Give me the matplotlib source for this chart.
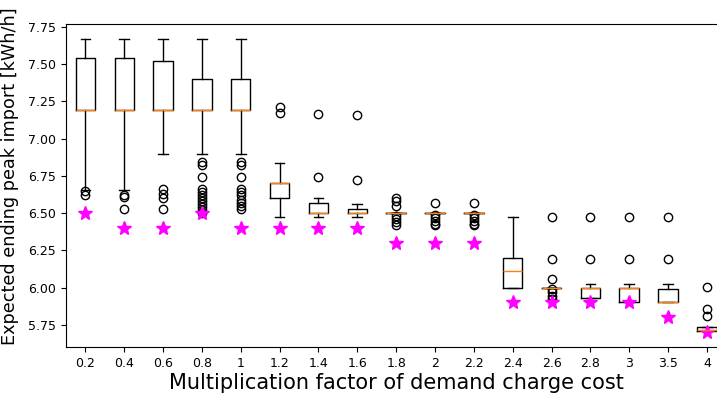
import numpy as np
import matplotlib
matplotlib.use('Agg')
import matplotlib.pyplot as plt

labels = ['0.2', '0.4', '0.6', '0.8', '1', '1.2', '1.4', '1.6', '1.8', '2', '2.2',
          '2.4', '2.6', '2.8', '3', '3.5', '4']

# box statistics
med    = [7.19, 7.19, 7.19, 7.19, 7.19, 6.70, 6.50, 6.50, 6.50, 6.50, 6.50,
          6.11, 6.00, 6.00, 6.00, 5.90, 5.712]
q1     = [7.19, 7.19, 7.19, 7.19, 7.19, 6.60, 6.50, 6.50, 6.50, 6.50, 6.50,
          6.00, 6.00, 5.93, 5.90, 5.90, 5.71]
q3     = [7.54, 7.54, 7.52, 7.40, 7.40, 6.70, 6.57, 6.53, 6.50, 6.50, 6.50,
          6.20, 6.00, 6.00, 6.00, 5.99, 5.732]
whislo = [6.656, 6.656, 6.90, 6.90, 6.90, 6.477, 6.477, 6.477, 6.50, 6.50, 6.50,
          6.00, 6.00, 5.93, 5.90, 5.90, 5.71]
whishi = [7.67, 7.67, 7.67, 7.67, 7.67, 6.835, 6.60, 6.564, 6.50, 6.50, 6.50,
          6.477, 6.00, 6.023, 6.023, 6.023, 5.732]
fliers = [
    [6.65, 6.62],
    [6.62, 6.605, 6.53],
    [6.66, 6.63, 6.60, 6.53],
    [6.84, 6.82, 6.745, 6.66, 6.64, 6.62, 6.60, 6.58, 6.56, 6.54, 6.52, 6.50],
    [6.84, 6.82, 6.745, 6.66, 6.64, 6.62, 6.59, 6.57, 6.55, 6.53],
    [7.21, 7.175],
    [7.166, 6.74],
    [7.157, 6.72],
    [6.60, 6.58, 6.55, 6.48, 6.46, 6.44, 6.42],
    [6.567, 6.49, 6.47, 6.45, 6.43, 6.42],
    [6.567, 6.49, 6.47, 6.45, 6.43, 6.42],
    [],
    [6.477, 6.193, 6.06, 5.99, 5.97, 5.94, 5.92],
    [6.477, 6.193],
    [6.477, 6.193],
    [6.477, 6.193],
    [6.007, 5.855, 5.806],
]

# deterministic value (stars)
star = [6.50, 6.40, 6.40, 6.50, 6.40, 6.40, 6.40, 6.40, 6.30, 6.30, 6.30,
        5.90, 5.90, 5.90, 5.90, 5.80, 5.70]

stats = []
for i in range(len(labels)):
    stats.append({'med': med[i], 'q1': q1[i], 'q3': q3[i],
                  'whislo': whislo[i], 'whishi': whishi[i],
                  'fliers': fliers[i], 'label': labels[i]})

fig = plt.figure(figsize=(7.17, 3.94), dpi=100)
ax = fig.add_axes([0.092, 0.119, 0.921, 0.820])

pos = np.arange(1, len(labels) + 1)
ax.bxp(stats, positions=pos)
ax.plot(pos, star, '*', color='magenta', markersize=10)

ax.set_xlim(0.5, 17.5)
ax.set_ylim(5.60, 7.77)
ax.set_yticks([5.75, 6.00, 6.25, 6.50, 6.75, 7.00, 7.25, 7.50, 7.75])
ax.tick_params(labelsize=9)
ax.set_xlabel('Multiplication factor of demand charge cost', fontsize=15, labelpad=2)
ax.set_ylabel('Expected ending peak import [kWh/h]', fontsize=12.7)
ax.yaxis.set_label_coords(-0.071, 0.53)

fig.savefig('out.png', dpi=100)
